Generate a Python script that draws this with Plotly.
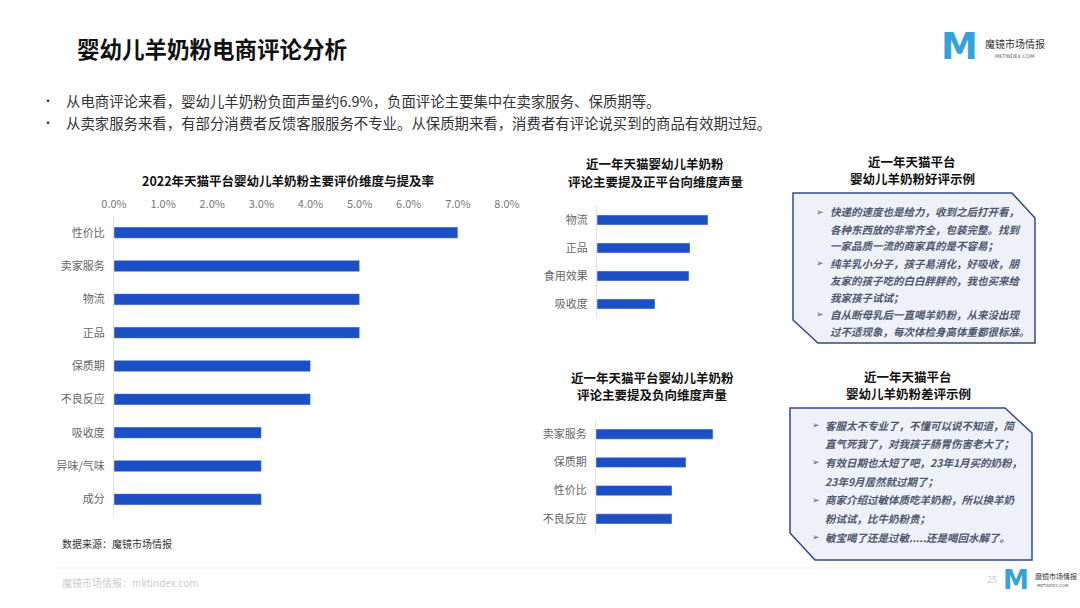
import plotly.graph_objects as go

W, H = 1080, 608

# ---------------- data ----------------
main_cats = ["性价比", "卖家服务", "物流", "正品", "保质期", "不良反应", "吸收度", "异味/气味", "成分"]
main_vals = [0.070, 0.050, 0.050, 0.050, 0.040, 0.040, 0.030, 0.030, 0.030]
main_ticks = [0, 0.01, 0.02, 0.03, 0.04, 0.05, 0.06, 0.07, 0.08]

pos_cats = ["物流", "正品", "食用效果", "吸收度"]
pos_vals = [111, 93, 92, 58]

neg_cats = ["卖家服务", "保质期", "性价比", "不良反应"]
neg_vals = [117, 90, 76, 76]

good_lines = [
    ("➢", "快递的速度也是给力，收到之后打开看，"),
    ("", "各种东西放的非常齐全，包装完整。找到"),
    ("", "一家品质一流的商家真的是不容易；"),
    ("➢", "纯羊乳小分子，孩子易消化，好吸收，朋"),
    ("", "友家的孩子吃的白白胖胖的，我也买来给"),
    ("", "我家孩子试试；"),
    ("➢", "自从断母乳后一直喝羊奶粉，从来没出现"),
    ("", "过不适现象，每次体检身高体重都很标准。"),
]
bad_lines = [
    ("➢", "客服太不专业了，不懂可以说不知道，简"),
    ("", "直气死我了，对我孩子肠胃伤害老大了；"),
    ("➢", "有效日期也太短了吧，23年1月买的奶粉，"),
    ("", "23年9月居然就过期了；"),
    ("➢", "商家介绍过敏体质吃羊奶粉，所以换羊奶"),
    ("", "粉试试，比牛奶粉贵；"),
    ("➢", "敏宝喝了还是过敏.....还是喝回水解了。"),
]

FONT = "Noto Sans CJK SC"
BAR = "#1c4fc4"


def px(x):
    return x / W


def py(y):
    return 1 - y / H


fig = go.Figure()

fig.add_trace(go.Bar(x=main_vals, y=main_cats, orientation="h", marker_color=BAR,
                     width=0.34, xaxis="x", yaxis="y", showlegend=False))
fig.add_trace(go.Bar(x=pos_vals, y=pos_cats, orientation="h", marker_color=BAR,
                     width=0.36, xaxis="x2", yaxis="y2", showlegend=False))
fig.add_trace(go.Bar(x=neg_vals, y=neg_cats, orientation="h", marker_color=BAR,
                     width=0.36, xaxis="x3", yaxis="y3", showlegend=False))

cat_font = dict(family=FONT, size=11, color="#666666")

fig.update_layout(
    width=W, height=H,
    margin=dict(l=0, r=0, t=0, b=0, autoexpand=False),
    paper_bgcolor="white", plot_bgcolor="white",
    font=dict(family=FONT),
    xaxis=dict(domain=[px(114), px(507)], range=[0, 0.08], side="top",
               tickvals=main_ticks, tickformat=".1%", showgrid=False, zeroline=False,
               tickfont=dict(family=FONT, size=11, color="#777777"), anchor="y",
               automargin=False, ticklabelstandoff=5),
    yaxis=dict(domain=[py(516), py(216)], autorange="reversed", showline=True,
               linecolor="#e3e3e3", linewidth=1, tickfont=cat_font, ticks="",
               anchor="x", ticklabelstandoff=6, automargin=False, showgrid=False),
    xaxis2=dict(domain=[px(597), px(747)], range=[0, 150], visible=False, anchor="y2",
                automargin=False),
    yaxis2=dict(domain=[py(318), py(206)], autorange="reversed", showline=True,
                linecolor="#e3e3e3", linewidth=1, tickfont=cat_font, ticks="",
                anchor="x2", ticklabelstandoff=6, automargin=False, showgrid=False),
    xaxis3=dict(domain=[px(596), px(746)], range=[0, 150], visible=False, anchor="y3",
                automargin=False),
    yaxis3=dict(domain=[py(533), py(420)], autorange="reversed", showline=True,
                linecolor="#e3e3e3", linewidth=1, tickfont=cat_font, ticks="",
                anchor="x3", ticklabelstandoff=6, automargin=False, showgrid=False),
)

ann = []


def text(x, y, s, size=12, color="#333333", anchor="left", family=FONT, yanchor="middle", pad=1):
    ann.append(dict(x=px(x), y=py(y), xref="paper", yref="paper", text=s, showarrow=False,
                    xanchor=anchor, yanchor=yanchor, borderpad=pad,
                    font=dict(family=family, size=size, color=color)))


def title2(x, ymid, l1, l2):
    text(x, ymid + 2, f"<b>{l1}</b>", size=12.5, color="#111111", anchor="center", yanchor="bottom", pad=0)
    text(x, ymid - 2, f"<b>{l2}</b>", size=12.5, color="#111111", anchor="center", yanchor="top", pad=0)


# header
text(75, 48, "<b>婴幼儿羊奶粉电商评论分析</b>", size=22.5, color="#111111")
text(40, 100, "•", size=12, color="#333333")
text(64, 100, "从电商评论来看，婴幼儿羊奶粉负面声量约6.9%，负面评论主要集中在卖家服务、保质期等。", size=14.4)
text(40, 122, "•", size=12, color="#333333")
text(64, 122, "从卖家服务来看，有部分消费者反馈客服服务不专业。从保质期来看，消费者有评论说买到的商品有效期过短。", size=14.4)

# logo top right
text(959, 47, "<b>M</b>", size=37, color="#35a2d9", anchor="center", family="DejaVu Sans")
text(983, 43, "魔镜市场情报", size=10, color="#333333")
text(993, 56, "MKTINDEX.COM", size=5, color="#666666", family="DejaVu Sans")

# chart titles
text(288, 180, "<b>2022年天猫平台婴幼儿羊奶粉主要评价维度与提及率</b>", size=12.5, color="#111111", anchor="center")
title2(655, 172.5, "近一年天猫婴幼儿羊奶粉", "评论主要提及正平台向维度声量")
title2(652, 385.5, "近一年天猫平台婴幼儿羊奶粉", "评论主要提及负向维度声量")
title2(912, 170, "近一年天猫平台", "婴幼儿羊奶粉好评示例")
title2(908, 384.5, "近一年天猫平台", "婴幼儿羊奶粉差评示例")

# review boxes
shapes = []


def box(x0, y0, x1, y1, cx, cy, bx, by):
    # chamfered top-right and bottom-left corners
    pts = [(x0, y0), (cx, y0), (x1, cy), (x1, y1), (bx, y1), (x0, by)]
    path = "M " + " L ".join(f"{px(a):.5f},{py(b):.5f}" for a, b in pts) + " Z"
    shapes.append(dict(type="path", path=path, xref="paper", yref="paper",
                       fillcolor="#eef2f8", line=dict(color="#2f4b8a", width=1.5)))


box(793, 193, 1035, 343, 1012, 218, 818, 320)
box(790, 408, 1032, 560, 1005, 433, 815, 533)

REV = "#4e5870"
for i, (b, s) in enumerate(good_lines):
    y = 212 + i * 17
    if b:
        text(814, y, b, size=9, color=REV, family="DejaVu Sans")
    text(828, y, f"<b><i>{s}</i></b>", size=10.5, color=REV)

for i, (b, s) in enumerate(bad_lines):
    y = 425 + i * 18.7
    if b:
        text(810, y, b, size=9, color=REV, family="DejaVu Sans")
    text(823, y, f"<b><i>{s}</i></b>", size=10.5, color=REV)

# footer
text(60, 543, "数据来源：魔镜市场情报", size=10, color="#333333")
shapes.append(dict(type="line", xref="paper", yref="paper", x0=px(55), x1=px(1040),
                   y0=py(568), y1=py(568), line=dict(color="#f3f3f3", width=1)))
text(60, 582, "魔镜市场情报：mktindex.com", size=10, color="#cccccc")
text(992, 579, "25", size=9, color="#cccccc", anchor="center")
text(1016, 580, "<b>M</b>", size=26, color="#35a2d9", anchor="center", family="DejaVu Sans")
text(1033, 576, "魔镜市场情报", size=7, color="#333333")
text(1035, 585, "MKTINDEX.COM", size=4, color="#666666", family="DejaVu Sans")

fig.update_layout(annotations=ann, shapes=shapes)

fig.write_html("out.html")
